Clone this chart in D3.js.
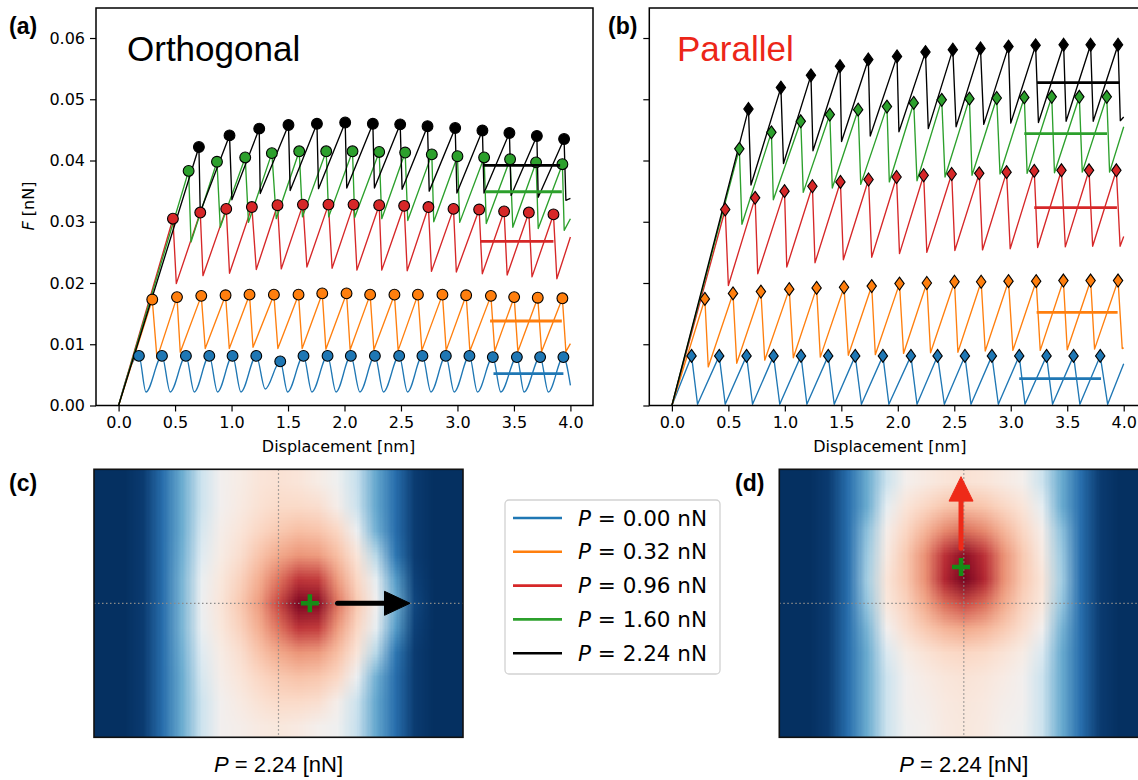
<!DOCTYPE html>
<html><head><meta charset="utf-8">
<script src="https://cdn.jsdelivr.net/npm/d3@7"></script>
<style>body{margin:0;background:#fff} svg{display:block}</style>
</head><body>
<script>
// ---------------- DATA ----------------
const xTicks = [0, 0.5, 1, 1.5, 2, 2.5, 3, 3.5, 4];
const yTicks = [0, 0.01, 0.02, 0.03, 0.04, 0.05, 0.06];
const seriesColors = ['#1f77b4', '#ff7f0e', '#d62728', '#2ca02c', '#000000'];
const loadLabels = ['0.00', '0.32', '0.96', '1.60', '2.24'];
const panelTitles = ['Orthogonal', 'Parallel'];

// Panel (a) Orthogonal
const orthoBluePeaks = [[0.180,0.0081],[0.384,0.0081],[0.596,0.0081],[0.803,0.0081],[1.009,0.0081],[1.219,0.0081],[1.431,0.0072],[1.637,0.0081],[1.850,0.0081],[2.056,0.0081],[2.269,0.0081],[2.484,0.0081],[2.690,0.0081],[2.897,0.0081],[3.106,0.0081],[3.313,0.0079],[3.526,0.0079],[3.732,0.0079],[3.938,0.0079]];
const orthoBlueMins = [[0.242,0.0022],[0.457,0.0022],[0.670,0.0022],[0.876,0.0022],[1.083,0.0022],[1.298,0.0027],[1.496,0.0022],[1.711,0.0022],[1.925,0.0022],[2.136,0.0022],[2.345,0.0022],[2.558,0.0022],[2.765,0.0022],[2.971,0.0022],[3.177,0.0022],[3.384,0.0022],[3.590,0.0022],[3.805,0.0022]];
const orthoBlueEnd = [4.0,0.0033];
const orthoOrangePeaks = [[0.298,0.0173],[0.517,0.0177],[0.732,0.0179],[0.947,0.0180],[1.159,0.0181],[1.375,0.0181],[1.593,0.0181],[1.803,0.0183],[2.018,0.0183],[2.227,0.0181],[2.442,0.0181],[2.650,0.0181],[2.867,0.0181],[3.077,0.0180],[3.296,0.0179],[3.502,0.0177],[3.711,0.0176],[3.929,0.0175]];
const orthoOrangeTroughs = [[0.340,0.0077],[0.546,0.0087],[0.767,0.0093],[0.980,0.0093],[1.190,0.0095],[1.410,0.0093],[1.625,0.0093],[1.835,0.0092],[2.050,0.0091],[2.260,0.0091],[2.475,0.0090],[2.685,0.0090],[2.900,0.0090],[3.110,0.0089],[3.330,0.0089],[3.535,0.0088],[3.745,0.0088],[3.960,0.0088]];
const orthoOrangeEnd = [4.0,0.0101];
const orthoRedPeaks = [[0.481,0.0305],[0.723,0.0315],[0.953,0.0321],[1.180,0.0324],[1.407,0.0327],[1.632,0.0328],[1.858,0.0328],[2.080,0.0328],[2.307,0.0327],[2.528,0.0326],[2.743,0.0324],[2.965,0.0321],[3.192,0.0320],[3.413,0.0317],[3.632,0.0315],[3.850,0.0312]];
const orthoRedTroughs = [[0.511,0.0199],[0.747,0.0212],[0.982,0.0216],[1.219,0.0222],[1.440,0.0223],[1.667,0.0226],[1.890,0.0224],[2.110,0.0221],[2.330,0.0221],[2.555,0.0220],[2.770,0.0219],[2.990,0.0218],[3.220,0.0215],[3.440,0.0213],[3.660,0.0210],[3.880,0.0207]];
const orthoRedEnd = [4.0,0.0275];
const orthoGreenPeaks = [[0.620,0.0383],[0.871,0.0398],[1.121,0.0405],[1.357,0.0412],[1.599,0.0415],[1.838,0.0415],[2.071,0.0415],[2.307,0.0414],[2.537,0.0413],[2.773,0.0410],[3.000,0.0407],[3.236,0.0405],[3.466,0.0402],[3.696,0.0397],[3.929,0.0394]];
const orthoGreenTroughs = [[0.641,0.0267],[0.900,0.0291],[1.150,0.0299],[1.396,0.0305],[1.628,0.0308],[1.860,0.0308],[2.090,0.0307],[2.330,0.0305],[2.560,0.0302],[2.790,0.0300],[3.020,0.0299],[3.255,0.0297],[3.490,0.0291],[3.715,0.0289],[3.945,0.0286]];
const orthoGreenEnd = [4.0,0.0305];
const orthoBlackPeaks = [[0.711,0.0422],[0.982,0.0441],[1.245,0.0452],[1.504,0.0458],[1.756,0.0460],[2.006,0.0462],[2.251,0.0460],[2.493,0.0459],[2.735,0.0456],[2.980,0.0453],[3.221,0.0449],[3.460,0.0445],[3.703,0.0440],[3.944,0.0435]];
const orthoBlackTroughs = [[0.723,0.0316],[1.003,0.0336],[1.254,0.0346],[1.519,0.0351],[1.770,0.0354],[2.020,0.0355],[2.265,0.0355],[2.510,0.0353],[2.750,0.0350],[2.995,0.0347],[3.235,0.0347],[3.475,0.0343],[3.715,0.0340],[3.960,0.0335]];
const orthoBlackEnd = [4.0,0.0338];
// mean bars [x start, x end, level]
const orthoBars = [[3.319,3.938,0.0052],[3.289,3.924,0.0138],[3.200,3.850,0.0268],[3.245,3.924,0.0349],[3.225,3.909,0.0392]];

// Panel (b) Parallel
const paraBluePeaks = [[0.174,0.0081],[0.419,0.0081],[0.661,0.0081],[0.900,0.0081],[1.143,0.0081],[1.384,0.0081],[1.623,0.0081],[1.868,0.0081],[2.116,0.0081],[2.352,0.0081],[2.594,0.0081],[2.833,0.0081],[3.075,0.0081],[3.317,0.0081],[3.556,0.0081],[3.792,0.0081]];
const paraBlueTroughs = [[0.227,0.0002],[0.472,0.0002],[0.714,0.0002],[0.955,0.0002],[1.195,0.0002],[1.437,0.0002],[1.678,0.0002],[1.921,0.0002],[2.170,0.0002],[2.412,0.0002],[2.648,0.0002],[2.890,0.0002],[3.126,0.0002],[3.370,0.0002],[3.612,0.0002],[3.858,0.0002]];
const paraBlueEnd = [4.0,0.0068];
const paraOrangePeaks = [[0.292,0.0174],[0.541,0.0183],[0.788,0.0186],[1.039,0.0190],[1.281,0.0192],[1.524,0.0193],[1.769,0.0195],[2.015,0.0199],[2.257,0.0200],[2.502,0.0202],[2.738,0.0202],[2.980,0.0203],[3.225,0.0203],[3.466,0.0204],[3.707,0.0204],[3.950,0.0204]];
const paraOrangeTroughs = [[0.322,0.0063],[0.574,0.0069],[0.822,0.0074],[1.075,0.0078],[1.314,0.0079],[1.562,0.0082],[1.801,0.0083],[2.051,0.0085],[2.290,0.0086],[2.532,0.0087],[2.774,0.0089],[3.019,0.0090],[3.261,0.0090],[3.500,0.0091],[3.742,0.0092],[3.987,0.0093]];
const paraOrangeEnd = [4.0,0.0094];
const paraRedPeaks = [[0.472,0.0320],[0.737,0.0339],[0.997,0.0350],[1.244,0.0358],[1.492,0.0365],[1.741,0.0369],[1.989,0.0373],[2.229,0.0376],[2.477,0.0378],[2.721,0.0379],[2.963,0.0381],[3.208,0.0383],[3.449,0.0384],[3.693,0.0384],[3.935,0.0384]];
const paraRedTroughs = [[0.500,0.0196],[0.760,0.0215],[1.017,0.0226],[1.267,0.0233],[1.518,0.0238],[1.769,0.0242],[2.015,0.0248],[2.257,0.0250],[2.505,0.0253],[2.750,0.0254],[2.995,0.0256],[3.238,0.0258],[3.483,0.0259],[3.725,0.0260],[3.968,0.0260]];
const paraRedEnd = [4.0,0.0276];
const paraGreenPeaks = [[0.597,0.0419],[0.881,0.0446],[1.141,0.0464],[1.398,0.0475],[1.649,0.0483],[1.904,0.0488],[2.141,0.0494],[2.389,0.0499],[2.634,0.0501],[2.876,0.0502],[3.120,0.0503],[3.363,0.0504],[3.607,0.0504],[3.850,0.0504]];
const paraGreenTroughs = [[0.620,0.0296],[0.898,0.0336],[1.163,0.0348],[1.420,0.0355],[1.672,0.0361],[1.925,0.0365],[2.170,0.0367],[2.418,0.0373],[2.657,0.0376],[2.905,0.0378],[3.145,0.0379],[3.387,0.0380],[3.633,0.0381],[3.875,0.0381]];
const paraGreenEnd = [4.0,0.0455];
const paraBlackPeaks = [[0.678,0.0484],[0.965,0.0519],[1.231,0.0539],[1.488,0.0554],[1.739,0.0565],[1.993,0.0570],[2.245,0.0577],[2.487,0.0581],[2.732,0.0583],[2.980,0.0586],[3.220,0.0588],[3.468,0.0589],[3.707,0.0589],[3.950,0.0589]];
const paraBlackTroughs = [[0.700,0.0360],[0.988,0.0395],[1.249,0.0416],[1.502,0.0431],[1.756,0.0440],[2.010,0.0447],[2.270,0.0452],[2.516,0.0455],[2.761,0.0459],[3.000,0.0461],[3.245,0.0462],[3.490,0.0464],[3.730,0.0464],[3.970,0.0465]];
const paraBlackEnd = [4.0,0.0471];
const paraBars = [[3.075,3.799,0.0044],[3.229,3.946,0.0152],[3.208,3.940,0.0323],[3.120,3.852,0.0444],[3.233,3.963,0.0527]];

// Heatmap grids (0 = low / dark blue, 1 = high / dark red), rows top->bottom
const heatOrthogonal = [
 [0,0,.02,.12,.25,.40,.50,.53,.56,.57,.56,.53,.49,.39,.24,.12,.02,0,0],
 [0,0,.02,.12,.25,.40,.50,.54,.57,.59,.59,.58,.52,.40,.24,.12,.02,0,0],
 [0,0,.02,.12,.25,.42,.52,.56,.60,.63,.65,.64,.60,.48,.26,.12,.02,0,0],
 [0,0,.02,.12,.26,.44,.53,.58,.64,.69,.72,.71,.65,.56,.36,.14,.02,0,0],
 [0,0,.02,.12,.27,.47,.55,.61,.68,.77,.86,.85,.71,.60,.46,.22,.03,0,0],
 [0,0,.02,.12,.27,.48,.56,.63,.71,.84,.97,.96,.77,.63,.50,.26,.04,0,0],
 [0,0,.02,.12,.27,.47,.55,.61,.68,.77,.86,.85,.71,.60,.46,.22,.03,0,0],
 [0,0,.02,.12,.26,.44,.53,.58,.64,.69,.72,.71,.65,.56,.36,.14,.02,0,0],
 [0,0,.02,.12,.25,.42,.52,.56,.60,.63,.645,.635,.60,.48,.26,.12,.02,0,0],
 [0,0,.02,.12,.25,.40,.50,.54,.57,.59,.59,.58,.52,.40,.24,.12,.02,0,0],
 [0,0,.02,.12,.25,.40,.50,.52,.54,.55,.54,.51,.49,.39,.24,.12,.02,0,0]
];
const heatParallel = [
 [0,0,.02,.12,.25,.40,.51,.54,.56,.57,.56,.54,.51,.40,.25,.12,.02,0,0],
 [0,0,.02,.12,.25,.46,.56,.60,.635,.65,.635,.60,.56,.46,.25,.12,.02,0,0],
 [0,0,.02,.12,.30,.52,.60,.67,.74,.78,.74,.67,.60,.52,.30,.12,.02,0,0],
 [0,0,.02,.12,.32,.54,.63,.73,.87,.95,.87,.73,.63,.54,.32,.12,.02,0,0],
 [0,0,.02,.12,.33,.56,.63,.73,.89,.98,.89,.73,.63,.56,.33,.12,.02,0,0],
 [0,0,.02,.12,.31,.55,.61,.69,.78,.83,.78,.69,.61,.55,.31,.12,.02,0,0],
 [0,0,.02,.12,.27,.50,.58,.63,.67,.69,.67,.63,.58,.50,.27,.12,.02,0,0],
 [0,0,.02,.12,.25,.43,.53,.565,.59,.60,.59,.565,.53,.43,.25,.12,.02,0,0],
 [0,0,.02,.12,.25,.40,.50,.535,.555,.565,.555,.535,.50,.40,.25,.12,.02,0,0],
 [0,0,.02,.12,.25,.40,.50,.52,.545,.555,.545,.52,.50,.40,.25,.12,.02,0,0],
 [0,0,.02,.12,.25,.40,.49,.51,.54,.55,.54,.51,.49,.40,.25,.12,.02,0,0]
];
// tip position (normalized -1..1) and sliding direction arrows
const tipOrthogonal = [0.17, 0.0];
const tipParallel = [-0.015, -0.27];
const arrowOrthogonal = {from:[0.32,0.0], shaftEnd:[0.58,0.0], tip:[0.713,0.0]};
const arrowParallel = {from:[-0.015,-0.41], shaftEnd:[-0.015,-0.77], tip:[-0.015,-0.945]};
const heatCaptionLoad = '2.24';

// ---------------- DRAW ----------------
const svg = d3.select('body').append('svg').attr('width', 1138).attr('height', 780);
const tickFont = 'DejaVu Sans';
const titleFont = 'Liberation Sans, Arial, sans-serif';

function sawtooth(peaks, troughs, end) {
  const pts = [[0, 0]];
  peaks.forEach((p, i) => { pts.push(p); if (troughs[i]) pts.push(troughs[i]); });
  if (end) pts.push(end);
  return pts;
}

const orthoSeries = [
  {peaks: orthoBluePeaks, troughs: orthoBlueMins, end: orthoBlueEnd, smooth: true},
  {peaks: orthoOrangePeaks, troughs: orthoOrangeTroughs, end: orthoOrangeEnd},
  {peaks: orthoRedPeaks, troughs: orthoRedTroughs, end: orthoRedEnd},
  {peaks: orthoGreenPeaks, troughs: orthoGreenTroughs, end: orthoGreenEnd},
  {peaks: orthoBlackPeaks, troughs: orthoBlackTroughs, end: orthoBlackEnd}
];
const paraSeries = [
  {peaks: paraBluePeaks, troughs: paraBlueTroughs, end: paraBlueEnd},
  {peaks: paraOrangePeaks, troughs: paraOrangeTroughs, end: paraOrangeEnd},
  {peaks: paraRedPeaks, troughs: paraRedTroughs, end: paraRedEnd},
  {peaks: paraGreenPeaks, troughs: paraGreenTroughs, end: paraGreenEnd},
  {peaks: paraBlackPeaks, troughs: paraBlackTroughs, end: paraBlackEnd}
];

const panels = [
  {left: 96, right: 593, series: orthoSeries, bars: orthoBars, marker: 'circle', yLabels: true,
   title: panelTitles[0], titleColor: '#000', titleX: 127, letter: '(a)', letterX: 9, xLabelShift: -6},
  {left: 649.3, right: 1146.3, series: paraSeries, bars: paraBars, marker: 'diamond', yLabels: false,
   title: panelTitles[1], titleColor: '#ec2618', titleX: 677, letter: '(b)', letterX: 608, xLabelShift: -8}
];
const plotTop = 8, plotBottom = 405.5;

panels.forEach(P => {
  const x = d3.scaleLinear().domain([-0.2, 4.2]).range([P.left, P.right]);
  const y = d3.scaleLinear().domain([0, 0.0649]).range([plotBottom, plotTop]);
  const g = svg.append('g');

  // lines
  P.series.forEach((s, i) => {
    const pts = sawtooth(s.peaks, s.troughs, s.end);
    const line = d3.line().x(d => x(d[0])).y(d => y(d[1]))
      .curve(s.smooth ? d3.curveMonotoneX : d3.curveLinear);
    g.append('path').attr('d', line(pts)).attr('fill', 'none')
      .attr('stroke', seriesColors[i]).attr('stroke-width', 1.35).attr('stroke-linejoin', 'round');
  });
  // markers
  P.series.forEach((s, i) => {
    const mg = g.append('g');
    s.peaks.forEach(p => {
      if (P.marker === 'circle') {
        mg.append('circle').attr('cx', x(p[0])).attr('cy', y(p[1])).attr('r', 5.4)
          .attr('fill', seriesColors[i]).attr('stroke', '#000').attr('stroke-width', 1.1);
      } else {
        const cx = x(p[0]), cy = y(p[1]);
        mg.append('path').attr('d', `M${cx},${cy-6.5}L${cx+4.7},${cy}L${cx},${cy+6.5}L${cx-4.7},${cy}Z`)
          .attr('fill', seriesColors[i]).attr('stroke', '#000').attr('stroke-width', 1.1);
      }
    });
  });
  // mean bars
  P.bars.forEach((b, i) => {
    g.append('line').attr('x1', x(b[0])).attr('x2', x(b[1])).attr('y1', y(b[2])).attr('y2', y(b[2]))
      .attr('stroke', seriesColors[i]).attr('stroke-width', 2.8);
  });

  // frame
  svg.append('rect').attr('x', P.left).attr('y', plotTop).attr('width', P.right - P.left).attr('height', plotBottom - plotTop)
    .attr('fill', 'none').attr('stroke', '#000').attr('stroke-width', 1.5);

  // axes
  const xa = svg.append('g').attr('transform', `translate(0,${plotBottom})`)
    .call(d3.axisBottom(x).tickValues(xTicks).tickFormat(d3.format('.1f')).tickSize(6).tickPadding(5));
  const ya = svg.append('g').attr('transform', `translate(${P.left},0)`)
    .call(d3.axisLeft(y).tickValues(yTicks).tickFormat(P.yLabels ? d3.format('.2f') : () => '').tickSize(6).tickPadding(5));
  [xa, ya].forEach(a => {
    a.select('.domain').remove();
    a.attr('font-family', tickFont).attr('font-size', 16);
    a.selectAll('line').attr('stroke', '#000').attr('stroke-width', 1.2);
    a.selectAll('text').attr('fill', '#000');
  });

  svg.append('text').attr('x', (x(-0.2) + x(4.2)) / 2 + P.xLabelShift).attr('y', 452).attr('text-anchor', 'middle')
    .attr('font-family', tickFont).attr('font-size', 16).text('Displacement [nm]');

  svg.append('text').attr('x', P.titleX).attr('y', 61).attr('font-family', titleFont).attr('font-size', 35)
    .attr('fill', P.titleColor).text(P.title);
  svg.append('text').attr('x', P.letterX).attr('y', 34).attr('font-family', titleFont).attr('font-weight', 'bold')
    .attr('font-size', 23).text(P.letter);
});

// y label
const yl = svg.append('text').attr('transform', 'translate(34,206) rotate(-90)').attr('text-anchor', 'middle')
  .attr('font-family', tickFont).attr('font-size', 16);
yl.append('tspan').attr('font-style', 'italic').text('F');
yl.append('tspan').text(' [nN]');

// ---------------- HEATMAPS ----------------
const heatColor = d3.scaleSequential(d3.interpolateRdBu).domain([1, 0]);
function drawHeat(grid, x0, y0, w, h, tip, arrow, arrowColor, letter, letterX) {
  const rows = grid.length, cols = grid[0].length;
  const cv = document.createElement('canvas');
  cv.width = cols; cv.height = rows;
  const ctx = cv.getContext('2d');
  grid.forEach((row, r) => row.forEach((v, c) => { ctx.fillStyle = heatColor(v); ctx.fillRect(c, r, 1, 1); }));
  const g = svg.append('g');
  g.append('image').attr('href', cv.toDataURL()).attr('x', x0).attr('y', y0).attr('width', w).attr('height', h)
    .attr('preserveAspectRatio', 'none');
  const hx = d3.scaleLinear().domain([-1, 1]).range([x0, x0 + w]);
  const hy = d3.scaleLinear().domain([-1, 1]).range([y0, y0 + h]);
  // dotted guides
  g.append('line').attr('x1', hx(0)).attr('x2', hx(0)).attr('y1', y0).attr('y2', y0 + h)
    .attr('stroke', '#8a8a8a').attr('stroke-width', 1.2).attr('stroke-dasharray', '1.5,2.5');
  g.append('line').attr('x1', x0).attr('x2', x0 + w).attr('y1', hy(0)).attr('y2', hy(0))
    .attr('stroke', '#8a8a8a').attr('stroke-width', 1.2).attr('stroke-dasharray', '1.5,2.5');
  // arrow
  const [ax0, ay0] = arrow.from, [ax1, ay1] = arrow.shaftEnd, [tx, ty] = arrow.tip;
  g.append('line').attr('x1', hx(ax0)).attr('y1', hy(ay0)).attr('x2', hx(ax1)).attr('y2', hy(ay1))
    .attr('stroke', arrowColor).attr('stroke-width', 5).attr('stroke-linecap', 'round');
  const horizontal = Math.abs(tx - ax1) > Math.abs(ty - ay1);
  let head;
  if (horizontal) {
    head = [[hx(ax1) - 1, hy(ay1) - 12], [hx(tx), hy(ty)], [hx(ax1) - 1, hy(ay1) + 12]];
  } else {
    head = [[hx(ax1) - 12, hy(ay1) + 1], [hx(tx), hy(ty)], [hx(ax1) + 12, hy(ay1) + 1]];
  }
  g.append('path').attr('d', 'M' + head.join('L') + 'Z').attr('fill', arrowColor).attr('stroke', arrowColor)
    .attr('stroke-width', 1).attr('stroke-linejoin', 'round');
  // tip cross
  const cx = hx(tip[0]), cy = hy(tip[1]);
  g.append('path').attr('d', `M${cx-9},${cy}H${cx+9}M${cx},${cy-9}V${cy+9}`)
    .attr('stroke', '#168c16').attr('stroke-width', 4.5);
  // border
  g.append('rect').attr('x', x0).attr('y', y0).attr('width', w).attr('height', h)
    .attr('fill', 'none').attr('stroke', '#111').attr('stroke-width', 1.6);
  // caption
  const t = svg.append('text').attr('x', x0 + w / 2).attr('y', 772).attr('text-anchor', 'middle')
    .attr('font-family', titleFont).attr('font-size', 22);
  t.append('tspan').attr('font-style', 'italic').text('P');
  t.append('tspan').text(' = ' + heatCaptionLoad + ' [nN]');
  svg.append('text').attr('x', letterX).attr('y', 491).attr('font-family', titleFont).attr('font-weight', 'bold')
    .attr('font-size', 23).text(letter);
}
drawHeat(heatOrthogonal, 94, 469.3, 369, 268, tipOrthogonal, arrowOrthogonal, '#000', '(c)', 9);
drawHeat(heatParallel, 779.3, 469.3, 369, 268, tipParallel, arrowParallel, '#ee2a18', '(d)', 735);

// ---------------- LEGEND ----------------
const lg = svg.append('g');
lg.append('rect').attr('x', 505).attr('y', 500).attr('width', 215).attr('height', 174).attr('rx', 4)
  .attr('fill', '#fff').attr('stroke', '#d2d2d2').attr('stroke-width', 1.3);
loadLabels.forEach((lab, i) => {
  const yy = 518 + i * 33.8;
  lg.append('line').attr('x1', 513).attr('x2', 562).attr('y1', yy).attr('y2', yy)
    .attr('stroke', seriesColors[i]).attr('stroke-width', 2.6);
  const t = lg.append('text').attr('x', 578).attr('y', yy + 7.5).attr('font-family', tickFont).attr('font-size', 21.5);
  t.append('tspan').attr('font-style', 'italic').text('P');
  t.append('tspan').text(' = ' + lab + ' nN');
});
</script>
</body></html>
